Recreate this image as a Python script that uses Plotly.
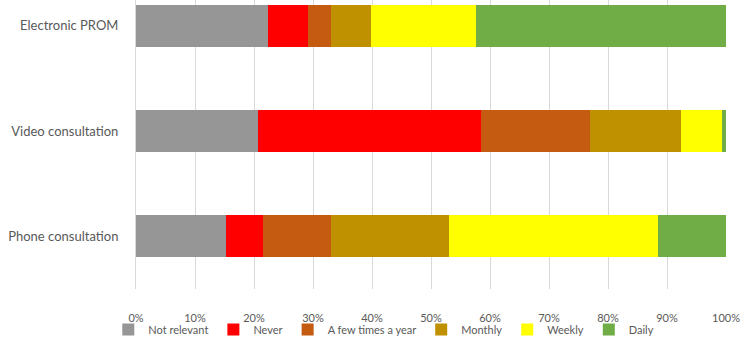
import plotly.graph_objects as go

categories = ["Phone consultation", "Video consultation", "Electronic PROM"]
series_names = ["Not relevant", "Never", "A few times a year", "Monthly", "Weekly", "Daily"]
not_relevant = [15.3, 20.7, 22.3]
never = [6.2, 37.8, 6.8]
few_times_year = [11.5, 18.4, 3.9]
monthly = [20.1, 15.4, 6.9]
weekly = [35.4, 7.0, 17.8]
daily = [11.5, 0.7, 42.3]
tick_vals = [0, 10, 20, 30, 40, 50, 60, 70, 80, 90, 100]
tick_text = ["0%", "10%", "20%", "30%", "40%", "50%", "60%", "70%", "80%", "90%", "100%"]

colors = ["#969696", "#FF0000", "#C55A11", "#BF9000", "#FFFF00", "#70AD47"]
series = [not_relevant, never, few_times_year, monthly, weekly, daily]

fig = go.Figure()
for name, vals, col in zip(series_names, series, colors):
    fig.add_trace(go.Bar(
        y=categories, x=vals, name=name, orientation="h",
        marker=dict(color=col, line=dict(width=0)),
        width=0.4,
    ))

font_family = "Lato, Carlito, Arial, sans-serif"
fig.update_layout(
    barmode="stack",
    width=744, height=344,
    margin=dict(l=136, r=18, t=0, b=55),
    paper_bgcolor="white", plot_bgcolor="white",
    font=dict(family=font_family, color="#595959"),
    showlegend=True,
    legend=dict(orientation="h", x=0.42, xanchor="center", y=-0.19, yanchor="bottom",
                bgcolor="rgba(0,0,0,0)",
                font=dict(size=11, color="#595959"), traceorder="normal",
                itemwidth=30, tracegroupgap=0),
    xaxis=dict(range=[0, 100], tickvals=tick_vals, ticktext=tick_text,
               showgrid=True, gridcolor="#D9D9D9", gridwidth=1,
               zeroline=False, showline=False, ticks="",
               tickfont=dict(size=11, color="#595959"),
               ticklabelstandoff=21, fixedrange=True),
    yaxis=dict(range=[-0.5, 2.245], showgrid=False, zeroline=False,
               showline=True, linecolor="#D9D9D9", linewidth=1,
               ticks="", tickfont=dict(size=13, color="#595959"),
               ticklabelstandoff=14, fixedrange=True),
)

fig.write_html("out.html", config={"displayModeBar": False},
               post_script="document.body.style.margin='0';")
